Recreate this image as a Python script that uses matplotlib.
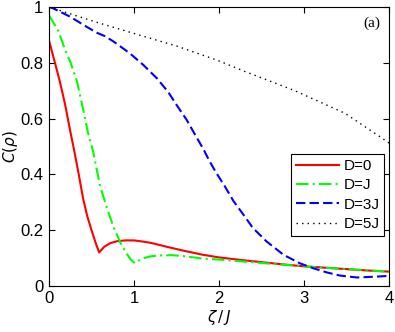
import matplotlib
matplotlib.use('Agg')
import matplotlib.pyplot as plt

# ----- datos -----
x_d0 = [0, 0.07, 0.13, 0.19, 0.25, 0.30, 0.35, 0.40, 0.45, 0.50, 0.55, 0.59, 0.65, 0.72, 0.80,
        0.90, 1.0, 1.1, 1.2, 1.4, 1.6, 1.8, 2.0, 2.25, 2.5, 2.75, 3.0, 3.25, 3.5, 3.75, 4.0]
y_d0 = [0.88, 0.80, 0.73, 0.65, 0.555, 0.48, 0.40, 0.315, 0.25, 0.20, 0.153, 0.12, 0.14, 0.153, 0.16,
        0.163, 0.163, 0.159, 0.154, 0.139, 0.125, 0.112, 0.102, 0.093, 0.085, 0.077, 0.07, 0.065, 0.06, 0.055, 0.051]

x_dj = [0, 0.05, 0.11, 0.19, 0.25, 0.33, 0.42, 0.46, 0.52, 0.54, 0.60, 0.68, 0.76, 0.84, 0.91, 0.96,
        1.01, 1.05, 1.12, 1.2, 1.3, 1.45, 1.6, 1.78, 2.0, 2.25, 2.5, 2.75, 3.0, 3.5, 4.0]
y_dj = [0.97, 0.945, 0.914, 0.846, 0.804, 0.732, 0.607, 0.547, 0.481, 0.45, 0.36, 0.28, 0.21, 0.155, 0.117, 0.095,
        0.081, 0.09, 0.10, 0.106, 0.109, 0.11, 0.106, 0.099, 0.094, 0.088, 0.082, 0.076, 0.07, 0.06, 0.051]

x_d3j = [0, 0.05, 0.25, 0.42, 0.56, 0.66, 0.76, 0.95, 1.11, 1.27, 1.40, 1.50, 1.62, 1.72, 1.82, 1.89,
         1.97, 2.07, 2.17, 2.29, 2.40, 2.56, 2.76, 2.95, 3.11, 3.27, 3.42, 3.62, 3.85, 4.0]
y_d3j = [1.0, 0.995, 0.965, 0.933, 0.908, 0.895, 0.876, 0.834, 0.792, 0.744, 0.696, 0.649, 0.595, 0.541, 0.488, 0.446,
         0.404, 0.356, 0.304, 0.254, 0.207, 0.159, 0.111, 0.081, 0.063, 0.048, 0.037, 0.030, 0.033, 0.036]

x_d5j = [0, 0.54, 1.0, 1.5, 1.97, 2.31, 2.89, 3.48, 3.95, 4.0]
y_d5j = [1.0, 0.947, 0.905, 0.86, 0.81, 0.768, 0.70, 0.619, 0.523, 0.512]

etiquetas = ['D=0', 'D=J', 'D=3J', 'D=5J']

# ----- figura -----
plt.rcParams['font.family'] = ['Liberation Sans', 'DejaVu Sans']
fig = plt.figure(figsize=(3.95, 3.32), dpi=100)
ax = fig.add_axes([0.124, 0.139, 0.861, 0.840])

ax.plot(x_d0, y_d0, color='#ff0000', lw=1.5, label=etiquetas[0])
ax.plot(x_dj, y_dj, color='#00ff00', lw=1.5, dashes=(6, 2, 1, 2), label=etiquetas[1])
ax.plot(x_d3j, y_d3j, color='#0000ff', lw=1.5, dashes=(4.5, 2), label=etiquetas[2])
ax.plot(x_d5j, y_d5j, color='black', lw=1.0, ls=(0, (1, 3)), label=etiquetas[3])

ax.set_xlim(0, 4)
ax.set_ylim(0, 1)
ax.set_xticks([0, 1, 2, 3, 4])
ax.set_yticks([0, 0.2, 0.4, 0.6, 0.8, 1])
ax.set_yticklabels(['0', '0.2', '0.4', '0.6', '0.8', '1'])
ax.tick_params(direction='in', top=True, right=True, labelsize=12, length=4, width=0.8, pad=4)
for s in ax.spines.values():
    s.set_linewidth(0.8)

ax.set_xlabel(r'$\zeta\,/\,J$', fontsize=11, labelpad=1)
ax.set_ylabel(r'$C(\rho)$', fontsize=11, labelpad=0)

ax.text(0.975, 0.965, '(a)', transform=ax.transAxes, ha='right', va='top',
        fontsize=11, family='Liberation Serif')

leg = ax.legend(loc='lower right', bbox_to_anchor=(0.985, 0.18), fontsize=11,
                frameon=True, fancybox=False, edgecolor='black', framealpha=1,
                handlelength=2.8, handletextpad=0.3, borderpad=0.3, labelspacing=0.35,
                borderaxespad=0)
leg.get_frame().set_linewidth(0.8)

fig.savefig('out.png', dpi=100)
